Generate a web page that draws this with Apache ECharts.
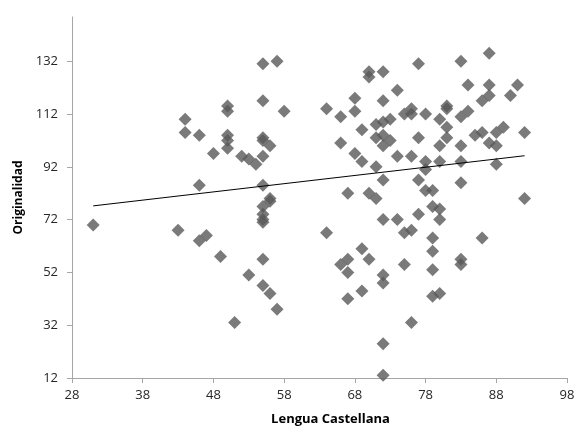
<!DOCTYPE html>
<html>
<head>
<meta charset="utf-8">
<script src="https://cdn.jsdelivr.net/npm/echarts@6/dist/echarts.min.js"></script>
<style>html,body{margin:0;padding:0;background:#fff;}#c{width:581px;height:426px;}</style>
</head>
<body>
<div id="c"></div>
<script>
var lenguaCastellana = [31,43,44,44,46,46,46,47,48,49,50,50,50,50,50,51,52,53,53,54,55,55,55,55,55,55,55,55,55,55,55,55,56,56,56,56,57,57,58,
64,64,66,66,66,67,67,67,67,68,68,68,69,69,69,69,70,70,70,70,71,71,71,71,72,72,72,72,72,72,72,72,72,72,72,73,73,74,74,74,75,75,75,76,76,76,76,76,77,77,77,77,78,78,78,78,79,79,79,79,79,79,80,80,80,80,80,80,81,81,81,81,83,83,83,83,83,83,83,84,84,85,86,86,86,87,87,87,87,88,88,88,89,90,91,92,92];
var originalidad = [70,68,110,105,104,85,64,66,97,58,115,113,104,102,99,33,96,95,51,93,131,117,103,102,96,85,77,74,72,71,57,47,100,80,79,44,132,38,113,
114,67,111,101,55,82,57,52,42,118,113,97,106,94,61,45,128,126,82,57,108,103,92,80,128,117,109,104,100,87,72,51,48,25,13,110,102,121,96,72,112,67,55,114,112,96,68,33,131,103,87,74,112,94,91,83,83,77,65,60,53,43,110,100,94,76,72,44,115,114,107,103,132,111,100,94,86,57,55,123,113,104,117,105,65,135,123,119,101,105,100,93,107,119,123,105,80];
var trendX = [31, 92];
var trendY = [77.2, 96.2];
var xTicks = [28,38,48,58,68,78,88,98];
var yTicks = [12,32,52,72,92,112,132];

var points = lenguaCastellana.map(function(x,i){return [x, originalidad[i]];});
var trend = trendX.map(function(x,i){return [x, trendY[i]];});

var chart = echarts.init(document.getElementById('c'), null, {renderer:'canvas'});
var axisCommon = {
  axisLine:{show:true, lineStyle:{color:'#a6a6a6', width:1}},
  splitLine:{show:false},
  axisTick:{show:true, inside:false, length:5, lineStyle:{color:'#a6a6a6'}}
};
chart.setOption({
  animation:false,
  grid:{left:72, right:14, top:17, bottom:48, containLabel:false, outerBoundsMode:'none'},
  xAxis:Object.assign({}, axisCommon, {
    type:'value', min:28, max:98,
    name:'Lengua Castellana', nameLocation:'middle', nameGap:35,
    nameTextStyle:{fontFamily:'Open Sans', fontWeight:'bold', fontSize:13, color:'#000', padding:[0,0,0,22]},
    axisTick:Object.assign({}, axisCommon.axisTick, {customValues:xTicks}),
    axisLabel:{customValues:xTicks, margin:11, fontFamily:'Open Sans', fontSize:13, color:'#262626'}
  }),
  yAxis:Object.assign({}, axisCommon, {
    type:'value', min:12, max:148.75,
    name:'Originalidad', nameLocation:'middle', nameGap:45,
    nameTextStyle:{fontFamily:'Open Sans', fontWeight:'bold', fontSize:12, color:'#000'},
    axisTick:Object.assign({}, axisCommon.axisTick, {customValues:yTicks}),
    axisLabel:{customValues:yTicks, margin:14, fontFamily:'Open Sans', fontSize:13, color:'#262626'}
  }),
  series:[
    {type:'scatter', data:points, symbol:'diamond', symbolSize:13, itemStyle:{color:'#595959'}},
    {type:'line', data:trend, symbol:'none', lineStyle:{color:'#000', width:1}, silent:true}
  ]
});
</script>
</body>
</html>
